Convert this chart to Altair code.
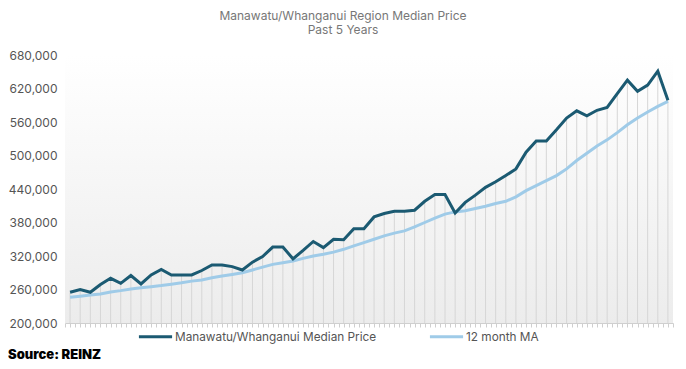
import altair as alt
import pandas as pd

# Monthly values, past 5 years (60 months)
median_price = [
    255000, 260000, 255000, 269000, 280000, 271000, 285000, 270000, 286000, 296000,
    286000, 286000, 286000, 294000, 304000, 304000, 301000, 295000, 309000, 319000,
    336000, 336000, 315000, 330000, 346000, 335000, 350000, 349000, 369000, 369000,
    390000, 396000, 400000, 400000, 402000, 418000, 430000, 430000, 397000, 416000,
    429000, 443000, 453000, 464000, 476000, 506000, 526000, 526000, 546000, 567000,
    580000, 571000, 581000, 586000, 611000, 635000, 615000, 626000, 651000, 599000,
]
ma_12 = [
    246000, 248000, 250000, 252000, 255500, 258000, 261000, 263000, 265000, 267000,
    269500, 272000, 275000, 277000, 281000, 284000, 287000, 290000, 295000, 300000,
    305000, 308000, 311000, 315700, 320000, 323000, 327000, 332000, 338000, 344000,
    350000, 356000, 361000, 365000, 372000, 380000, 388000, 395000, 399000, 401000,
    405000, 409000, 414000, 418000, 426000, 437000, 446000, 455000, 464000, 476000,
    491000, 504000, 517000, 528000, 541000, 555000, 567000, 578000, 588000, 597000,
]
series_names = ["Manawatu/Whanganui Median Price", "12 month MA"]
series_colors = ["#1b5a72", "#9fcbe8"]
y_ticks = [200000, 260000, 320000, 380000, 440000, 500000, 560000, 620000, 680000]

n = len(median_price)
idx = list(range(n))
x_ticks = [i / 2 - 0.5 for i in range(2 * n + 1)]

wide = pd.DataFrame({"i": idx, "median": median_price, "ma": ma_12})
long = pd.concat([
    pd.DataFrame({"i": idx, "value": median_price, "series": series_names[0]}),
    pd.DataFrame({"i": idx, "value": ma_12, "series": series_names[1]}),
])

W, H = 608, 268
FONT = "Inter"

x_enc = alt.X("i:Q", scale=alt.Scale(domain=[-0.5, n - 0.5], nice=False, zero=False),
              axis=alt.Axis(values=x_ticks, labels=False, title=None, grid=False,
                            tickSize=4, tickColor="#cfcfcf", domainColor="#cfcfcf"))
y_scale = alt.Scale(domain=[200000, 680000], nice=False, zero=False)
y_axis = alt.Axis(values=y_ticks, format=",.0f", grid=False, domain=False, ticks=False,
                  labelPadding=8, labelFontSize=12, labelColor="#555555", labelFont=FONT,
                  title=None)

bg = alt.Chart(alt.Data(values=[{}])).mark_rect(
    color=alt.LinearGradient(
        gradient="linear", x1=0, y1=0, x2=0, y2=1,
        stops=[alt.GradientStop(color="#ffffff", offset=0),
               alt.GradientStop(color="#ececec", offset=1)])
).encode(x=alt.value(0), x2=alt.value(W), y=alt.value(0), y2=alt.value(H))

drops = alt.Chart(wide).mark_rule(color="#d6d6d6", strokeWidth=1).encode(
    x=x_enc,
    y=alt.Y("median:Q", scale=y_scale, axis=y_axis),
    y2=alt.datum(200000),
)

color = alt.Color("series:N",
                  scale=alt.Scale(domain=series_names, range=series_colors),
                  legend=alt.Legend(orient="none", legendX=72, legendY=263,
                                    direction="horizontal", title=None,
                                    symbolType="stroke", symbolSize=1100,
                                    symbolStrokeWidth=3, labelOffset=1,
                                    labelFontSize=11.8, labelFont=FONT,
                                    labelColor="#555555", columnPadding=46,
                                    labelLimit=400))

ma_line = alt.Chart(long).transform_filter(
    alt.datum.series == series_names[1]
).mark_line(strokeWidth=3).encode(
    x=x_enc, y=alt.Y("value:Q", scale=y_scale, axis=y_axis), color=color)

med_line = alt.Chart(long).transform_filter(
    alt.datum.series == series_names[0]
).mark_line(strokeWidth=3).encode(
    x=x_enc, y=alt.Y("value:Q", scale=y_scale, axis=y_axis), color=color)

source = alt.Chart(alt.Data(values=[{}])).mark_text(
    align="left", baseline="middle", font=FONT, fontSize=13, fontWeight=900,
    color="#000000"
).encode(x=alt.value(-57), y=alt.value(H + 32), text=alt.value("Source: REINZ"))

chart = alt.layer(bg, drops, ma_line, med_line, source).properties(
    width=W, height=H,
    title=alt.TitleParams(["Manawatu/Whanganui Region Median Price", "Past 5 Years"],
                          fontSize=12, font=FONT, fontWeight="normal", color="#777777",
                          anchor="middle", dx=-26, offset=12, lineHeight=14),
    autosize=alt.AutoSizeParams(type="none"),
    padding={"left": 57, "top": 47, "right": 5, "bottom": 40},
).configure_view(stroke=None)

chart.save("out.html", embed_options={"renderer": "svg", "actions": False})
